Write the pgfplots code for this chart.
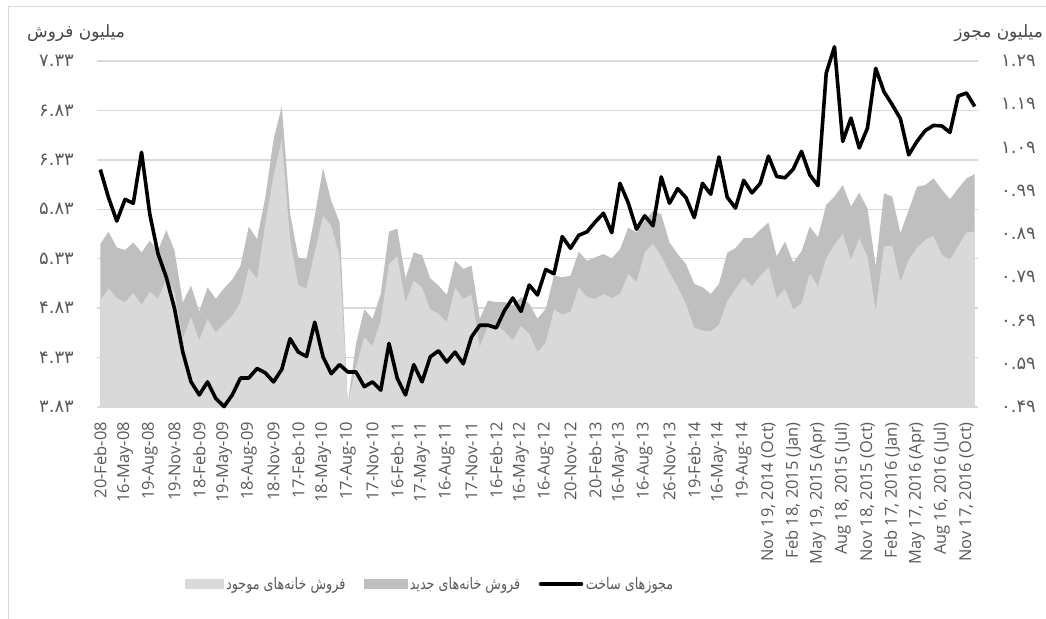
\documentclass[border=0pt]{standalone}
\usepackage{graphicx}
\usepackage{fontspec}
\usepackage{pgfplots}
\pgfplotsset{compat=1.18}
\usepackage{pgfplotstable}
\setmainfont{Open Sans}
\newfontfamily\arabicfont[Script=Arabic]{DejaVu Sans}
\newfontfamily\pdig{DejaVu Sans}
\TeXXeTstate=1
\definecolor{exc}{HTML}{D9D9D9}
\definecolor{newc}{HTML}{BFBFBF}
\definecolor{gridc}{HTML}{D9D9D9}
\definecolor{txt}{HTML}{595959}
\newcommand\pd[1]{\mbox{\pdig #1}}

\pgfplotstableread{
i ex tot perm
0 4.907 5.478 1.039
1 5.031 5.602 0.974
2 4.931 5.444 0.920
3 4.890 5.417 0.970
4 4.984 5.494 0.961
5 4.864 5.394 1.079
6 4.998 5.511 0.936
7 4.924 5.411 0.844
8 5.125 5.622 0.790
9 4.991 5.411 0.717
10 4.521 4.890 0.617
11 4.739 5.058 0.548
12 4.504 4.796 0.518
13 4.723 5.041 0.548
14 4.582 4.924 0.510
15 4.672 5.031 0.491
16 4.756 5.119 0.518
17 4.890 5.260 0.557
18 5.233 5.656 0.557
19 5.125 5.528 0.579
20 5.679 5.947 0.569
21 6.166 6.535 0.548
22 6.535 6.870 0.577
23 5.528 5.796 0.648
24 5.058 5.343 0.617
25 5.031 5.327 0.607
26 5.394 5.763 0.686
27 5.763 6.249 0.606
28 5.662 5.914 0.567
29 5.360 5.702 0.588
30 3.867 3.867 0.571
31 4.236 4.471 0.571
32 4.538 4.817 0.537
33 4.447 4.723 0.548
34 4.706 4.974 0.529
35 5.276 5.602 0.637
36 5.360 5.635 0.556
37 4.890 5.132 0.518
38 5.108 5.394 0.588
39 5.041 5.367 0.548
40 4.817 5.132 0.606
41 4.773 5.058 0.620
42 4.689 4.964 0.594
43 5.036 5.310 0.617
44 4.924 5.226 0.590
45 4.965 5.260 0.652
46 4.437 4.723 0.679
47 4.655 4.907 0.679
48 4.662 4.890 0.673
49 4.595 4.890 0.713
50 4.504 4.857 0.742
51 4.649 4.941 0.711
52 4.571 4.874 0.772
53 4.387 4.723 0.749
54 4.481 4.823 0.808
55 4.817 5.159 0.798
56 4.763 5.142 0.884
57 4.796 5.159 0.857
58 5.041 5.400 0.887
59 4.941 5.310 0.895
60 4.924 5.343 0.918
61 4.974 5.377 0.938
62 4.931 5.333 0.893
63 4.974 5.427 1.007
64 5.176 5.645 0.962
65 5.092 5.595 0.901
66 5.400 5.713 0.932
67 5.478 5.813 0.909
68 5.360 5.780 1.022
69 5.192 5.494 0.961
70 5.041 5.377 0.995
71 4.874 5.276 0.974
72 4.629 5.075 0.928
73 4.605 5.041 1.007
74 4.595 4.974 0.982
75 4.662 5.075 1.068
76 4.900 5.390 0.975
77 5.025 5.437 0.950
78 5.135 5.538 1.014
79 5.052 5.538 0.985
80 5.152 5.622 1.007
81 5.246 5.696 1.070
82 4.934 5.353 1.023
83 5.025 5.504 1.020
84 4.817 5.293 1.040
85 4.877 5.404 1.081
86 5.179 5.655 1.027
87 5.052 5.548 1.002
88 5.337 5.874 1.262
89 5.471 5.958 1.323
90 5.582 6.075 1.104
91 5.320 5.857 1.158
92 5.538 5.998 1.089
93 5.353 5.840 1.135
94 4.800 5.253 1.273
95 5.454 5.991 1.219
96 5.461 5.958 1.189
97 5.092 5.588 1.156
98 5.320 5.823 1.073
99 5.437 6.058 1.104
100 5.521 6.075 1.129
101 5.562 6.142 1.141
102 5.370 6.031 1.140
103 5.320 5.931 1.125
104 5.461 6.041 1.209
105 5.595 6.142 1.216
106 5.605 6.186 1.185
}\data

\pgfplotsset{common/.style={scale only axis, width=881bp, height=346bp,
  at={(97bp,212bp)}, anchor=south west, xmin=-0.4, xmax=106.4,
  axis line style={draw=none}, major tick length=0pt,
  tick style={draw=none}}}

\begin{document}
\begin{tikzpicture}
\useasboundingbox (0,0) rectangle (1046bp,619bp);
\draw[gridc, line width=1bp] (8bp,-10bp) -- (8bp,612bp) -- (1060bp,612bp);
\begin{axis}[common,
  ymin=3.83, ymax=7.33,
  ytick={3.83,4.33,4.83,5.33,5.83,6.33,6.83,7.33},
  yticklabels={\pd{۳.۸۳},\pd{۴.۳۳},\pd{۴.۸۳},\pd{۵.۳۳},\pd{۵.۸۳},\pd{۶.۳۳},\pd{۶.۸۳},\pd{۷.۳۳}},
  ymajorgrids, grid style={gridc, line width=1.3bp},
  yticklabel style={font=\fontsize{18}{18}\selectfont, text=txt, inner sep=0pt, anchor=east},
  yticklabel shift=23bp,
  xtick={0,3,...,105},
  xticklabels={20-Feb-08,16-May-08,19-Aug-08,19-Nov-08,18-Feb-09,19-May-09,18-Aug-09,18-Nov-09,17-Feb-10,18-May-10,17-Aug-10,17-Nov-10,16-Feb-11,17-May-11,16-Aug-11,17-Nov-11,16-Feb-12,16-May-12,16-Aug-12,20-Nov-12,20-Feb-13,16-May-13,16-Aug-13,26-Nov-13,19-Feb-14,16-May-14,19-Aug-14,{Nov 19, 2014 (Oct)},{Feb 18, 2015 (Jan)},{May 19, 2015 (Apr)},{Aug 18, 2015 (Jul)},{Nov 18, 2015 (Oct)},{Feb 17, 2016 (Jan)},{May 17, 2016 (Apr)},{Aug 16, 2016 (Jul)},{Nov 17, 2016 (Oct)}},
  xticklabel style={rotate=90, anchor=east, font=\fontsize{16.5}{16.5}\selectfont, text=txt, inner sep=0pt},
  xticklabel shift=15bp,
  ylabel={\arabicfont\beginR میلیون فروش\endR},
  ylabel style={rotate=-90, at={(axis description cs:-0.0795,1.081)}, anchor=west, inner sep=0pt, font=\fontsize{17}{17}\selectfont, text=txt!80!black},
]
\addplot[fill=newc, draw=none] table[x=i, y=tot]{\data} \closedcycle;
\addplot[fill=exc, draw=none] table[x=i, y=ex]{\data} \closedcycle;
\end{axis}
\begin{axis}[common,
  ymin=0.49, ymax=1.29, clip=false,
  axis y line*=right, axis x line=none,
  ytick={0.49,0.59,0.69,0.79,0.89,0.99,1.09,1.19,1.29},
  yticklabels={\pd{۰.۴۹},\pd{۰.۵۹},\pd{۰.۶۹},\pd{۰.۷۹},\pd{۰.۸۹},\pd{۰.۹۹},\pd{۱.۰۹},\pd{۱.۱۹},\pd{۱.۲۹}},
  yticklabel style={font=\fontsize{18}{18}\selectfont, text=txt, inner sep=0pt, anchor=west},
  yticklabel shift=23bp,
  ylabel={\arabicfont\beginR میلیون مجوز\endR},
  ylabel style={rotate=-90, at={(axis description cs:1.0738,1.081)}, anchor=east, inner sep=0pt, font=\fontsize{17}{17}\selectfont, text=txt!80!black},
  legend style={at={(axis description cs:0.0999,-0.5116)}, anchor=west, draw=none, fill=none, inner sep=0pt,
    font=\fontsize{16}{16}\selectfont, text=txt, legend columns=3,
    nodes={inner sep=2.5bp},
    /tikz/every even column/.append style={column sep=16bp}},
]
\addlegendimage{legend image code/.code={\fill[exc] (0bp,-4.5bp) rectangle (38bp,4.5bp);}}
\addlegendentry{\scalebox{0.8}[1]{\arabicfont\beginR فروش خانه‌های موجود\endR}}
\addlegendimage{legend image code/.code={\fill[newc] (0bp,-4.5bp) rectangle (43bp,4.5bp);}}
\addlegendentry{\scalebox{0.8}[1]{\arabicfont\beginR فروش خانه‌های جدید\endR}}
\addplot[black, line width=3.6bp, line join=round,
  legend image code/.code={\draw[black, line width=4.5bp, line cap=round] (0bp,0bp) -- (40bp,0bp);}]
  table[x=i, y=perm]{\data};
\addlegendentry{\scalebox{0.8}[1]{\arabicfont\beginR مجوزهای ساخت\endR}}
\end{axis}
\end{tikzpicture}
\end{document}
